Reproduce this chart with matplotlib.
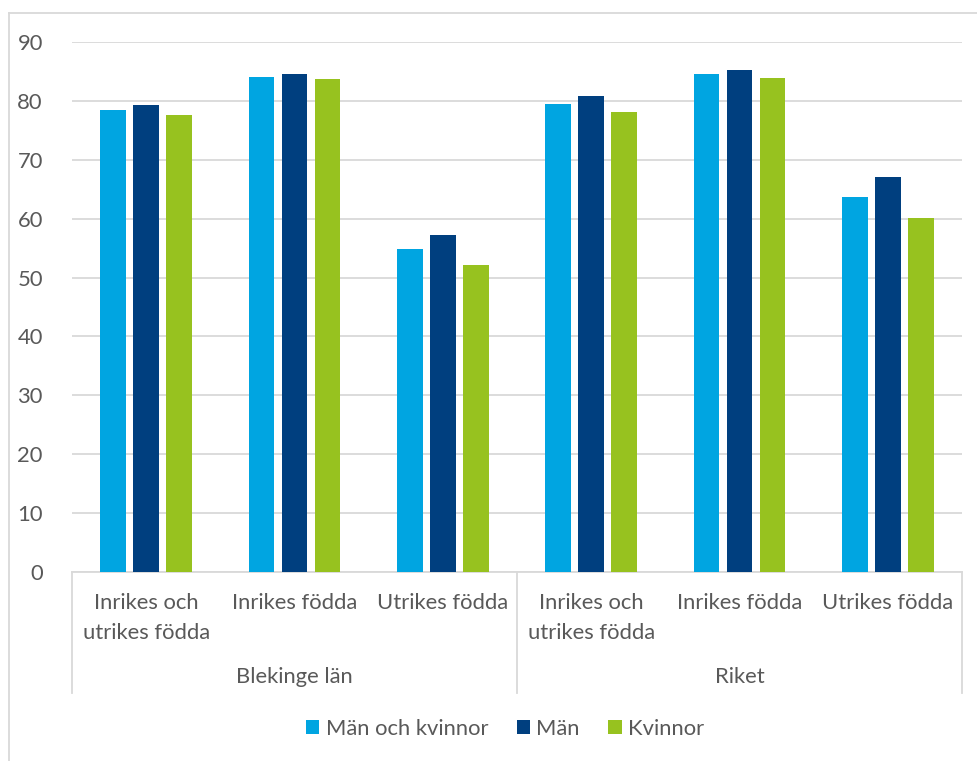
import matplotlib
matplotlib.use("Agg")
import matplotlib.pyplot as plt
from matplotlib.patches import Patch
from matplotlib.lines import Line2D

plt.rcParams['font.family'] = ['Lato', 'DejaVu Sans']

groups = ["Blekinge län", "Riket"]
subcats = ["Inrikes och\nutrikes födda", "Inrikes födda", "Utrikes födda"]
series = ["Män och kvinnor", "Män", "Kvinnor"]
man_och_kvinnor = [78.5, 84.1, 54.8, 79.5, 84.6, 63.6]
man = [79.3, 84.6, 57.3, 80.8, 85.2, 67.1]
kvinnor = [77.6, 83.7, 52.1, 78.1, 83.9, 60.1]
yticks = [0, 10, 20, 30, 40, 50, 60, 70, 80, 90]

colors = ["#00A5E1", "#003F7F", "#97C21F"]
text_color = "#595959"
grid_color = "#D9D9D9"
FS = 15.8

W, H = 977, 761
fig = plt.figure(figsize=(W / 100, H / 100), dpi=100)
ax = fig.add_axes([72 / W, 1 - 572 / H, 890 / W, 530 / H])

x = list(range(len(man)))
offsets = [-0.2225, 0.0, 0.2225]
width = 0.175
for vals, off, c in zip([man_och_kvinnor, man, kvinnor], offsets, colors):
    ax.bar([xi + off for xi in x], vals, width=width, color=c, zorder=3)

ax.set_xlim(-0.5, 5.5)
ax.set_ylim(0, 90)
ax.set_yticks(yticks)
ax.set_yticklabels([str(t) for t in yticks])
ax.tick_params(axis='y', length=0, pad=21, labelsize=FS, labelcolor=text_color)
ax.set_xticks([])
ax.grid(axis='y', color=grid_color, linewidth=1.3, zorder=0)
for s in ['left', 'right', 'top']:
    ax.spines[s].set_visible(False)
ax.spines['bottom'].set_color(grid_color)
ax.spines['bottom'].set_linewidth(1.3)

tr = ax.get_xaxis_transform()
line_y = [-31 / 530, -61 / 530]
for i, xi in enumerate(x):
    for j, line in enumerate(subcats[i % 3].split("\n")):
        ax.text(xi, line_y[j], line, transform=tr, ha='center', va='center',
                fontsize=FS, color=text_color)
for g, gx in zip(groups, [1, 4]):
    ax.text(gx, -105 / 530, g, transform=tr, ha='center', va='center',
            fontsize=FS, color=text_color)
for bx in [-0.5, 2.5, 5.5]:
    ax.add_line(Line2D([bx, bx], [0, -121 / 530], transform=tr, color=grid_color,
                       linewidth=1.3, clip_on=False))

handles = [Patch(facecolor=c, edgecolor='none') for c in colors]
fig.legend(handles, series, loc='center', bbox_to_anchor=(505 / W, 1 - 729 / H), ncol=3,
           frameon=False, handlelength=0.6, handleheight=0.6, handletextpad=0.3,
           columnspacing=1.3, prop={'size': FS, 'family': ['Lato', 'DejaVu Sans']},
           labelcolor=text_color)

# outer chart frame (left and top edges)
fig.add_artist(Line2D([9 / W, 9 / W], [0, 1 - 13 / H], transform=fig.transFigure,
                      color=grid_color, linewidth=1.3))
fig.add_artist(Line2D([9 / W, 1], [1 - 13 / H, 1 - 13 / H], transform=fig.transFigure,
                      color=grid_color, linewidth=1.3))

fig.savefig("out.png", dpi=100, facecolor='white')
